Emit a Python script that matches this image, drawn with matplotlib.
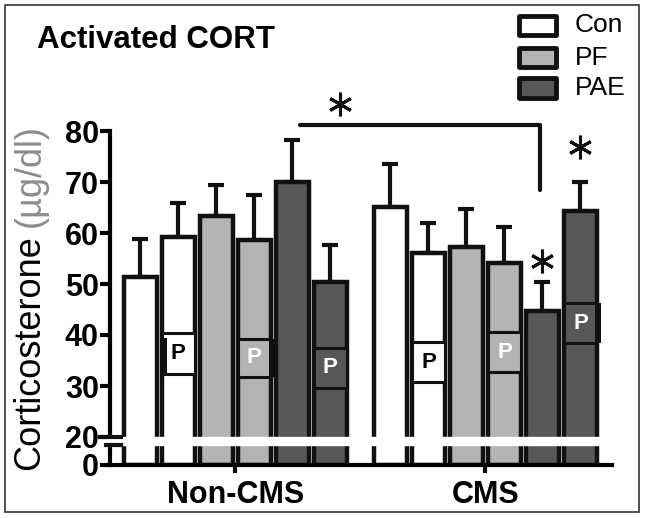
import numpy as np
import matplotlib
matplotlib.use('Agg')
import matplotlib.pyplot as plt
from matplotlib.patches import Rectangle
from matplotlib.transforms import blended_transform_factory

plt.rcParams['font.family'] = ['Liberation Sans', 'DejaVu Sans']

# data (ug/dl)
groups = ['Non-CMS', 'CMS']
treatments = ['Con', 'Con', 'PF', 'PF', 'PAE', 'PAE']
has_p = [False, True, False, True, False, True]
non_cms_mean = [51.4, 59.2, 63.3, 58.6, 70.0, 50.4]
non_cms_sem = [7.4, 6.7, 6.1, 8.9, 8.2, 7.2]
cms_mean = [65.1, 56.1, 57.3, 54.1, 44.7, 64.3]
cms_sem = [8.4, 5.9, 7.4, 7.1, 5.7, 5.7]
legend_labels = ['Con', 'PF', 'PAE']
yticks = [0, 20, 30, 40, 50, 60, 70, 80]

# "P" label boxes inside the P bars (low, high)
p_box_non_cms = [(32.4, 40.4), (31.8, 39.2), (29.6, 37.5)]
p_box_cms = [(30.8, 38.6), (32.7, 40.6), (38.4, 46.3)]
p_side_non_cms = ['l', 'r', None]
p_side_cms = [None, None, 'r']

colors = {'Con': 'white', 'PF': '#b3b3b3', 'PAE': '#585858'}
edge = '#111111'

W, H = 645, 518
def fx(px):
    return px / W
def fy(py):
    return 1 - py / H

fig = plt.figure(figsize=(W / 100, H / 100), dpi=100)
ax = fig.add_axes([fx(110), fy(465), (612 - 110) / W, (465 - 5) / H])
ax.patch.set_alpha(0)

# broken axis: 0-20 squeezed
K = 28 / 5.1 / 20
B = 20 * K
def fwd(v):
    v = np.asarray(v, float)
    return np.where(v < 20, v * K, B + v - 20)
def inv(u):
    u = np.asarray(u, float)
    return np.where(u < B, u / K, 20 + u - B)
ax.set_yscale('function', functions=(fwd, inv))
ax.set_ylim(0, 20 + 460 / 5.1 - B)
ax.set_xlim(-0.80, -0.80 + 502 / 38)

offset = 6.58
width = 0.87
all_means = [non_cms_mean, cms_mean]
all_sems = [non_cms_sem, cms_sem]
all_boxes = [p_box_non_cms, p_box_cms]
all_sides = [p_side_non_cms, p_side_cms]

for g in range(2):
    x = np.arange(6) + g * offset
    cols = [colors[t] for t in treatments]
    ax.errorbar(x, all_means[g], yerr=[np.zeros(6), all_sems[g]], fmt='none',
                ecolor=edge, elinewidth=3, capsize=6, capthick=3, zorder=1.8)
    ax.bar(x, all_means[g], width=width, color=cols, edgecolor=edge,
           linewidth=3.2, zorder=2)
    k = 0
    for i in range(6):
        if not has_p[i]:
            continue
        lo, hi = all_boxes[g][k]
        side = all_sides[g][k]
        k += 1
        ax.add_patch(Rectangle((x[i] - width / 2, lo), width, hi - lo,
                               fc=colors[treatments[i]], ec=edge, lw=2.2, zorder=2.2))
        if side == 'l':
            ax.add_patch(Rectangle((x[i] - width / 2 - 0.03, lo), 0.16, hi - lo - 1,
                                   fc=edge, ec='none', zorder=2.3))
        elif side == 'r':
            ax.add_patch(Rectangle((x[i] + width / 2 - 0.05, lo), 0.16, hi - lo,
                                   fc=edge, ec='none', zorder=2.3))
        tc = 'black' if treatments[i] == 'Con' else 'white'
        ax.text(x[i], (lo + hi) / 2, 'P', ha='center', va='center',
                fontsize=16, fontweight='bold', color=tc, zorder=2.4)

# axes styling
for s in ['top', 'right']:
    ax.spines[s].set_visible(False)
ax.spines['left'].set_linewidth(3)
ax.spines['bottom'].set_linewidth(3)
ax.spines['left'].set_bounds(0, 80)
ax.set_yticks(yticks)
ax.set_yticklabels([str(t) for t in yticks], fontsize=22, fontweight='bold')
ax.tick_params(axis='y', direction='out', length=7, width=3, pad=1)
ax.set_xticks([2.5, 2.5 + offset])
ax.set_xticklabels(groups, fontsize=22, fontweight='bold')
ax.tick_params(axis='x', direction='out', length=6, width=3, pad=5)

# axis break band and marks
ax.axhspan(14.6, 19.7, xmin=-0.006, xmax=0.978, color='white', zorder=3, clip_on=False)
bt = blended_transform_factory(ax.transAxes, ax.transData)
ax.plot([-0.02, 0.022], [20, 20], color=edge, lw=3, transform=bt, clip_on=False, zorder=4)
ax.plot([-0.008, 0.022], [14.3, 14.3], color=edge, lw=3, transform=bt, clip_on=False, zorder=4)

# significance marks
ax.plot([4.2, 10.52, 10.52], [81.2, 81.2, 68.4], color=edge, lw=3, clip_on=False,
        solid_capstyle='round', zorder=4)
star_x = [5.25, 4 + offset, 5 + offset]
star_y = [85.3, 54.6, 76.9]
ax.plot(star_x, star_y, ls='none', marker=(6, 2, 0), ms=17, mew=2.2, color=edge,
        clip_on=False, zorder=4)

# y label, unit in grey
t1 = fig.text(fx(30), fy(470), 'Corticosterone', rotation=90, ha='center',
              va='bottom', fontsize=26)
ax.annotate('(µg/dl)', xy=(0.5, 1), xycoords=t1, xytext=(0, 6),
            textcoords='offset points', rotation=90, ha='center', va='bottom',
            fontsize=26, color='#8c8c8c', annotation_clip=False)

fig.text(fx(37), fy(40), 'Activated CORT', fontsize=22.5, fontweight='bold',
         ha='left', va='center')

# legend
box_y = [25.5, 57.5, 88]
for lab, yy in zip(legend_labels, box_y):
    fig.patches.append(Rectangle((fx(519), fy(yy + 9.5)), 37 / W, 19 / H,
                                 transform=fig.transFigure, fc=colors[lab], ec=edge,
                                 lw=3.5, joinstyle='round'))
    fig.text(fx(575), fy(yy), lab, fontsize=19, ha='left', va='center')

# outer frame
fig.patches.append(Rectangle((fx(5), fy(512)), (639 - 5) / W, (512 - 5) / H,
                             transform=fig.transFigure, fill=False, ec='#333333', lw=1.2))

fig.savefig('out.png', dpi=100)
